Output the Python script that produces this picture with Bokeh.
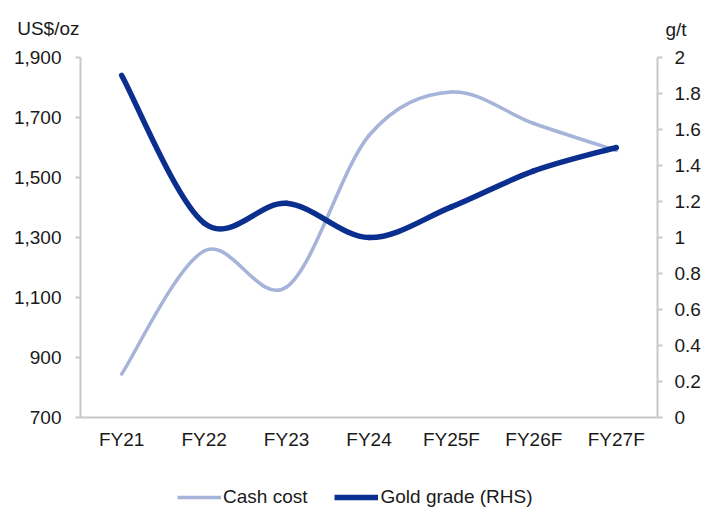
from bokeh.plotting import figure
from bokeh.layouts import column
from bokeh.models import (FactorRange, Range1d, LinearAxis, FixedTicker,
                          NumeralTickFormatter, Label, Legend, LegendItem)
from bokeh.embed import file_html
from bokeh.resources import INLINE

categories = ["FY21", "FY22", "FY23", "FY24", "FY25F", "FY26F", "FY27F"]
cash_cost = [845, 1255, 1135, 1640, 1785, 1680, 1590]
gold_grade = [1.90, 1.08, 1.19, 1.00, 1.17, 1.37, 1.50]
left_ticks = [700, 900, 1100, 1300, 1500, 1700, 1900]
right_ticks = [0, 0.2, 0.4, 0.6, 0.8, 1.0, 1.2, 1.4, 1.6, 1.8, 2.0]
series_names = ["Cash cost", "Gold grade (RHS)"]

FONT = "Liberation Sans"
FS = "19px"
TXT = "#1A1A1A"
AX = "#C8C8C8"
LIGHT = "#A6B4DA"
DARK = "#0A2F8F"


def smooth(cats, vals):
    """Bezier segments (Excel-like smoothed line) through the category centres."""
    n = len(vals)
    xs = [i + 0.5 for i in range(len(cats))]
    seg = dict(x0=[], y0=[], x1=[], y1=[], cx0=[], cy0=[], cx1=[], cy1=[])
    for i in range(n - 1):
        im1 = max(i - 1, 0)
        ip2 = min(i + 2, n - 1)
        seg["x0"].append(xs[i]); seg["y0"].append(vals[i])
        seg["x1"].append(xs[i + 1]); seg["y1"].append(vals[i + 1])
        seg["cx0"].append(xs[i] + (xs[i + 1] - xs[im1]) / 6)
        seg["cy0"].append(vals[i] + (vals[i + 1] - vals[im1]) / 6)
        seg["cx1"].append(xs[i + 1] - (xs[ip2] - xs[i]) / 6)
        seg["cy1"].append(vals[i + 1] - (vals[ip2] - vals[i]) / 6)
    return seg


# ---------------- main chart ----------------
p = figure(x_range=FactorRange(factors=categories, range_padding=0),
           y_range=Range1d(left_ticks[0], left_ticks[-1]),
           width=701, height=460, frame_width=577, frame_height=360,
           output_backend="svg", toolbar_location=None,
           min_border_left=80, min_border_right=44, min_border_top=57,
           min_border_bottom=43)
p.extra_y_ranges = {"grade": Range1d(right_ticks[0], right_ticks[-1])}
p.outline_line_color = None
p.xgrid.visible = False
p.ygrid.visible = False
p.background_fill_color = "white"
p.border_fill_color = "white"

p.bezier(**smooth(categories, cash_cost), line_color=LIGHT,
         line_width=3.5, line_cap="round")
p.bezier(**smooth(categories, gold_grade), line_color=DARK,
         line_width=5.5, line_cap="round", y_range_name="grade")


def style(ax):
    ax.axis_line_color = AX
    ax.axis_line_width = 2
    ax.major_tick_line_color = AX
    ax.major_tick_line_width = 2
    ax.major_tick_in = 0
    ax.minor_tick_line_color = None
    ax.major_label_text_font = FONT
    ax.major_label_text_font_size = FS
    ax.major_label_text_color = TXT
    ax.axis_label = None
    ax.axis_label_standoff = 0


yl = p.yaxis[0]
yl.ticker = FixedTicker(ticks=left_ticks)
yl.formatter = NumeralTickFormatter(format="0,0")
style(yl)
yl.major_tick_out = 5
yl.major_label_standoff = 14

yr = LinearAxis(y_range_name="grade", ticker=FixedTicker(ticks=right_ticks),
                formatter=NumeralTickFormatter(format="0.[0]"))
style(yr)
yr.major_tick_out = 5
yr.major_label_standoff = 12
p.add_layout(yr, "right")

xa = p.xaxis[0]
style(xa)
xa.major_tick_line_color = None
xa.major_tick_out = 0
xa.major_label_standoff = 11

# axis titles, placed in the top border panel (screen units relative to it)
p.add_layout(Label(x=-1, y=29, x_units="screen", y_units="screen",
                   text="US$/oz", text_align="right", text_baseline="alphabetic",
                   text_font=FONT, text_font_size=FS, text_color=TXT), "above")
p.add_layout(Label(x=585, y=7, x_units="screen", y_units="screen",
                   text="g/t", text_align="left", text_baseline="alphabetic",
                   text_font=FONT, text_font_size=FS, text_color=TXT), "above")

# ---------------- legend strip ----------------
# the series are plotted outside this strip's visible range, so only their
# legend swatches show
pl = figure(x_range=FactorRange(factors=categories), y_range=Range1d(-2, -1),
            width=701, height=49, output_backend="svg", toolbar_location=None,
            x_axis_location=None, y_axis_location=None,
            min_border_left=0, min_border_right=0, min_border_top=0,
            min_border_bottom=0)
pl.outline_line_color = None
pl.xgrid.visible = False
pl.ygrid.visible = False
pl.background_fill_color = "white"
pl.border_fill_color = "white"
lg_cash = pl.line(x=categories, y=cash_cost, line_color=LIGHT, line_width=3.5)
lg_grade = pl.line(x=categories, y=gold_grade, line_color=DARK, line_width=5.5)

legend = Legend(items=[LegendItem(label=series_names[0], renderers=[lg_cash]),
                       LegendItem(label=series_names[1], renderers=[lg_grade])],
                orientation="horizontal", location=(97, 1),
                border_line_color=None, background_fill_alpha=0,
                glyph_width=44, glyph_height=12, label_height=12,
                label_standoff=2, spacing=27,
                padding=0, margin=0, label_text_font=FONT,
                label_text_font_size=FS, label_text_color=TXT)
pl.add_layout(legend)

layout = column(p, pl, spacing=0)
open("out.html", "w").write(file_html(layout, INLINE))
